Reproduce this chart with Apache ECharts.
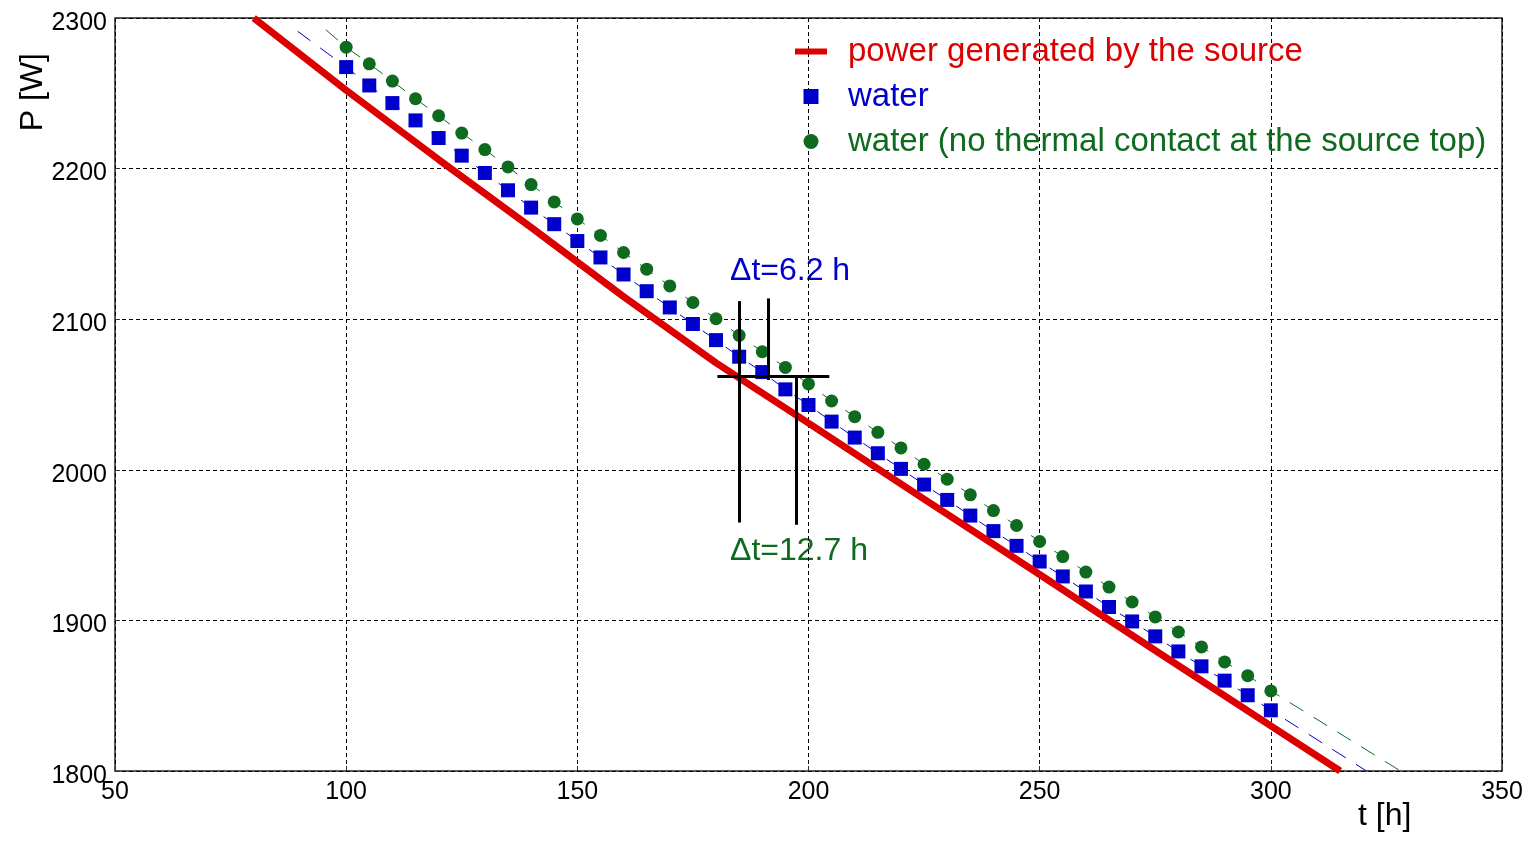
<!DOCTYPE html>
<html>
<head>
<meta charset="utf-8">
<title>P vs t</title>
<script src="https://cdn.jsdelivr.net/npm/echarts@6/dist/echarts.min.js"></script>
<style>
html, body { margin: 0; padding: 0; background: #fff; }
#main { width: 1529px; height: 842px; }
</style>
</head>
<body>
<div id="main"></div>
<script>
var myChart = echarts.init(document.getElementById('main'));

// 时间点 (h)
var tPoints = [100, 105, 110, 115, 120, 125, 130, 135, 140, 145, 150, 155, 160, 165, 170, 175, 180, 185, 190, 195,
	200, 205, 210, 215, 220, 225, 230, 235, 240, 245, 250, 255, 260, 265, 270, 275, 280, 285, 290, 295, 300];
// water
var pWater = [2267.4, 2255.2, 2243.5, 2232.0, 2220.3, 2208.6, 2197.1, 2185.6, 2174.1, 2163.1, 2151.9, 2141.0,
	2129.7, 2118.6, 2107.8, 2096.8, 2086.1, 2075.1, 2064.9, 2053.4, 2043.0, 2032.0, 2021.4, 2011.0, 2000.6,
	1990.2, 1980.0, 1969.6, 1959.3, 1949.5, 1939.1, 1929.2, 1919.2, 1908.9, 1899.3, 1889.4, 1879.4, 1869.5,
	1860.0, 1850.3, 1840.3];
// water (no thermal contact at the source top)
var pWaterNoTop = [2280.6, 2269.6, 2258.1, 2246.4, 2235.1, 2223.6, 2212.6, 2201.1, 2189.4, 2177.9, 2166.6, 2155.6,
	2144.3, 2133.2, 2122.1, 2111.1, 2100.3, 2089.3, 2078.4, 2068.0, 2057.0, 2045.7, 2035.3, 2024.9, 2014.5,
	2003.7, 1993.8, 1983.4, 1972.9, 1963.0, 1952.4, 1942.4, 1932.1, 1922.1, 1912.2, 1902.3, 1892.3, 1882.4,
	1872.4, 1863.3, 1853.2];
// power generated by the source
var tSource = [80, 100, 120, 140, 160, 180, 200, 225, 250, 275, 300, 315];
var pSource = [2300, 2252, 2206, 2161, 2115, 2071, 2031, 1980.5, 1930.5, 1880, 1830, 1800];

// 虚线两端
var waterStart = [89.5, 2291.2], waterEnd = [320.7, 1800];
var noTopStart = [95.6, 2292.2], noTopEnd = [327.8, 1800.5];

// Δt 标注线
var crossH = [[180.3, 2061.8], [204.5, 2061.8]];
var crossV = [[185, 2112, 1965], [191.2, 2113.8, 2059.6], [197.4, 2061.8, 1963.5]];

var xTicks = { min: 50, max: 350, interval: 50 };
var yTicks = { min: 1800, max: 2300, interval: 100 };

var RED = '#dc0000', BLUE = '#0000cc', GREEN = '#0e6a1e';
var FONT = '"Liberation Sans", Arial, sans-serif';

var zip = function (xs, ys) {
	var out = [];
	for (var i = 0; i < xs.length; i++) {
		out.push([xs[i], ys[i]]);
	}
	return out;
};
var plain = function (v) {
	return String(v);
};

var crossLines = [[{ coord: crossH[0] }, { coord: crossH[1] }]];
for (var i = 0; i < crossV.length; i++) {
	crossLines.push([{ coord: [crossV[i][0], crossV[i][1]] }, { coord: [crossV[i][0], crossV[i][2]] }]);
}

var option = {
	animation: false,
	textStyle: { fontFamily: FONT },
	grid: {
		left: 115, right: 27, top: 18, bottom: 71,
		show: true, borderColor: '#222', borderWidth: 1.5
	},
	xAxis: {
		type: 'value',
		min: xTicks.min, max: xTicks.max, interval: xTicks.interval,
		axisLine: { show: false },
		axisTick: { show: true, inside: true, length: 5, lineStyle: { color: '#333' } },
		axisLabel: { color: '#000', fontSize: 25, fontFamily: FONT, margin: 9, formatter: plain },
		splitLine: { lineStyle: { color: '#000', type: [4, 3], width: 1 } }
	},
	yAxis: {
		type: 'value',
		min: yTicks.min, max: yTicks.max, interval: yTicks.interval,
		axisLine: { show: false },
		axisTick: { show: true, inside: true, length: 5, lineStyle: { color: '#333' } },
		axisLabel: {
			color: '#000', fontSize: 25, fontFamily: FONT, margin: 8, formatter: plain,
			verticalAlign: 'top', lineHeight: 10
		},
		splitLine: { lineStyle: { color: '#000', type: [4, 3], width: 1 } }
	},
	legend: {
		orient: 'vertical',
		left: 795,
		top: 33,
		padding: 0,
		itemWidth: 32,
		itemHeight: 15,
		itemGap: 8,
		selectedMode: false,
		textStyle: { fontSize: 33, fontFamily: FONT, lineHeight: 37, padding: [0, 0, 0, 16] },
		data: [
			{ name: 'power generated by the source', icon: 'path://M0,0H32V6H0Z', textStyle: { color: RED } },
			{ name: 'water', icon: 'path://M0,0H1V1H0Z', textStyle: { color: BLUE } },
			{ name: 'water (no thermal contact at the source top)', icon: 'circle', textStyle: { color: GREEN } }
		]
	},
	series: [
		{
			name: 'water fit',
			type: 'line',
			data: [waterStart].concat(zip(tPoints, pWater)).concat([waterEnd]),
			showSymbol: false,
			silent: true,
			lineStyle: { color: BLUE, width: 1, type: [16, 12] },
			z: 1
		},
		{
			name: 'no top fit',
			type: 'line',
			data: [noTopStart].concat(zip(tPoints, pWaterNoTop)).concat([noTopEnd]),
			showSymbol: false,
			silent: true,
			lineStyle: { color: GREEN, width: 1, type: [16, 12] },
			z: 1
		},
		{
			name: 'water',
			type: 'scatter',
			data: zip(tPoints, pWater),
			symbol: 'rect',
			symbolSize: 14,
			itemStyle: { color: BLUE, opacity: 1 },
			z: 3
		},
		{
			name: 'water (no thermal contact at the source top)',
			type: 'scatter',
			data: zip(tPoints, pWaterNoTop),
			symbol: 'circle',
			symbolSize: 13,
			itemStyle: { color: GREEN, opacity: 1 },
			z: 3
		},
		{
			name: 'power generated by the source',
			type: 'line',
			data: zip(tSource, pSource),
			showSymbol: false,
			color: RED,
			lineStyle: { color: RED, width: 7 },
			z: 4
		},
		{
			name: 'cross',
			type: 'line',
			data: [],
			silent: true,
			markLine: {
				silent: true,
				symbol: 'none',
				label: { show: false },
				lineStyle: { color: '#000', width: 3, type: 'solid' },
				data: crossLines
			},
			z: 5
		}
	],
	graphic: [
		{ type: 'text', left: 730, top: 255, style: { text: 'Δt=6.2 h', font: '32px ' + FONT, fill: BLUE } },
		{ type: 'text', left: 730, top: 535, style: { text: 'Δt=12.7 h', font: '32px ' + FONT, fill: GREEN } },
		{ type: 'text', left: 1358, top: 800, style: { text: 't [h]', font: '32px ' + FONT, fill: '#000' } },
		{ type: 'text', left: 17, top: 53, rotation: Math.PI / 2, style: { text: 'P [W]', font: '32px ' + FONT, fill: '#000' } }
	]
};

myChart.setOption(option);

window.onresize = function () {
	myChart.resize();
};
</script>
</body>
</html>
